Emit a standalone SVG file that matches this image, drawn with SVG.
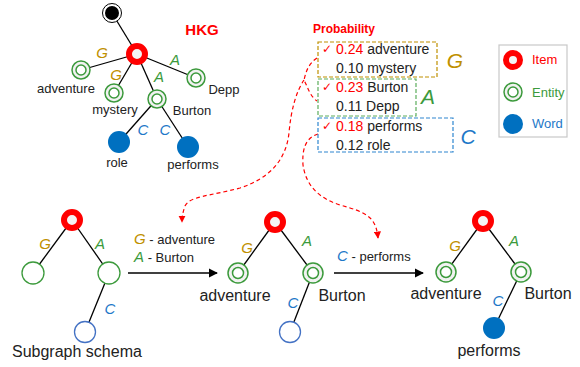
<svg xmlns="http://www.w3.org/2000/svg" width="580" height="367" viewBox="0 0 580 367">
<style>
text{font-family:"Liberation Sans",Arial,sans-serif;fill:#222}
.lbl{font-size:13px}
.big{font-size:16px}
.g{fill:#BF9000;font-style:italic}
.a{fill:#3C9A3C;font-style:italic}
.c{fill:#1E78C8;font-style:italic}
.el{font-size:15px}
.edge{stroke:#000;stroke-width:1.3;fill:none}
.item{fill:#F4F4F4;stroke:#FF0000;stroke-width:6}
.ent-o{fill:#F2F2F2;stroke:#3C9A3C;stroke-width:1.5}
.ent-i{fill:#fff;stroke:#3C9A3C;stroke-width:1.5}
.word{fill:#0070C0}
.sch-g{fill:#fff;stroke:#3C9A3C;stroke-width:1.3}
.sch-b{fill:#fff;stroke:#4472C4;stroke-width:1.3}
.red{fill:#FF0000}
.pt{font-size:14px}
.dash{fill:none;stroke:#FF0000;stroke-width:1.2;stroke-dasharray:4 3}
</style>
<defs>
<marker id="ah" viewBox="0 0 10 10" refX="9" refY="5" markerWidth="7" markerHeight="7" orient="auto-start-reverse"><path d="M0,0L10,5L0,10z" fill="#000"/></marker>
<marker id="rh" viewBox="0 0 10 10" refX="9" refY="5" markerWidth="6" markerHeight="6" orient="auto-start-reverse"><path d="M0,0L10,5L0,10z" fill="#FF0000"/></marker>
</defs>

<g id="connectors">
<line class="edge" x1="112" y1="13" x2="137" y2="54"/>
<line class="edge" x1="137" y1="54" x2="81" y2="70"/>
<line class="edge" x1="137" y1="54" x2="114" y2="93"/>
<line class="edge" x1="137" y1="54" x2="157" y2="99"/>
<line class="edge" x1="137" y1="54" x2="196" y2="78"/>
<line class="edge" x1="157" y1="99" x2="119" y2="142"/>
<line class="edge" x1="157" y1="99" x2="188" y2="147"/>
<line class="edge" x1="72" y1="220" x2="33" y2="273"/>
<line class="edge" x1="72" y1="220" x2="109" y2="273"/>
<line class="edge" x1="109" y1="273" x2="85" y2="332"/>
<line class="edge" x1="275" y1="222" x2="238" y2="273"/>
<line class="edge" x1="275" y1="222" x2="313" y2="273"/>
<line class="edge" x1="313" y1="273" x2="290" y2="332"/>
<line class="edge" x1="483" y1="221" x2="446" y2="272"/>
<line class="edge" x1="483" y1="221" x2="521" y2="272"/>
<line class="edge" x1="521" y1="272" x2="494" y2="328"/>
<line class="edge" x1="128" y1="273" x2="217" y2="273" marker-end="url(#ah)"/>
<line class="edge" x1="334" y1="273" x2="423" y2="273" marker-end="url(#ah)"/>
<path class="dash" d="M317,58 C308,64 306,72 304,80 C308,88 310,96 317,101"/>
<path class="dash" d="M304,80 C296,92 291,110 289,133 C286,160 270,178 240,188 C210,196 190,196 185,206 C183,212 182,216 182,222" marker-end="url(#rh)"/>
<path class="dash" d="M318,134 C305,138 302,150 303,165 C306,185 318,198 340,205 C365,212 376,216 378,238" marker-end="url(#rh)"/>
</g>

<g id="hkg-label"><text x="202" y="35" text-anchor="middle" style="font-size:15px;font-weight:bold;fill:#FF0000">HKG</text></g>

<g id="root"><circle cx="112" cy="13" r="9.5" fill="#fff" stroke="#000" stroke-width="1"/><circle cx="112" cy="13" r="7" fill="#000"/></g>
<g id="hkg-item"><circle class="item" cx="137" cy="54" r="8"/></g>
<g id="n-adventure"><circle class="ent-o" cx="81" cy="70" r="9"/><circle class="ent-i" cx="81" cy="70" r="5"/><text class="lbl" x="66" y="93" text-anchor="middle">adventure</text></g>
<g id="n-mystery"><circle class="ent-o" cx="114" cy="93" r="9"/><circle class="ent-i" cx="114" cy="93" r="5"/><text class="lbl" x="115" y="114" text-anchor="middle">mystery</text></g>
<g id="n-burton"><circle class="ent-o" cx="157" cy="99" r="9"/><circle class="ent-i" cx="157" cy="99" r="5"/><text class="lbl" x="192" y="115" text-anchor="middle">Burton</text></g>
<g id="n-depp"><circle class="ent-o" cx="196" cy="78" r="9"/><circle class="ent-i" cx="196" cy="78" r="5"/><text class="lbl" x="224" y="94" text-anchor="middle">Depp</text></g>
<g id="n-role"><circle class="word" cx="119" cy="142" r="11"/><text class="lbl" x="117" y="167" text-anchor="middle">role</text></g>
<g id="n-performs"><circle class="word" cx="188" cy="147" r="11"/><text class="lbl" x="193" y="169" text-anchor="middle">performs</text></g>
<g id="top-edge-labels">
<text class="g el" x="102" y="58" text-anchor="middle">G</text>
<text class="g el" x="116" y="80" text-anchor="middle">G</text>
<text class="a el" x="175" y="65" text-anchor="middle">A</text>
<text class="a el" x="159" y="82" text-anchor="middle">A</text>
<text class="c el" x="143" y="135" text-anchor="middle">C</text>
<text class="c el" x="165" y="135" text-anchor="middle">C</text>
</g>

<g id="probability">
<text x="313" y="33" style="font-size:12px;font-weight:bold;fill:#FF0000">Probability</text>
<rect x="318" y="42" width="119" height="35" fill="none" stroke="#BF9000" stroke-width="1.2" stroke-dasharray="4 2"/>
<rect x="318" y="79" width="98" height="37" fill="none" stroke="#5CAD5C" stroke-width="1.2" stroke-dasharray="4 2"/>
<rect x="318" y="118" width="135" height="34" fill="none" stroke="#2E86D0" stroke-width="1.2" stroke-dasharray="4 2"/>
<text x="322" y="53" style="font-size:12px;fill:#FF0000;font-family:'DejaVu Sans',sans-serif">✓</text>
<text class="pt" x="336" y="54"><tspan fill="#FF0000">0.24</tspan> adventure</text>
<text class="pt" x="336" y="73">0.10 mystery</text>
<text x="322" y="91" style="font-size:12px;fill:#FF0000;font-family:'DejaVu Sans',sans-serif">✓</text>
<text class="pt" x="336" y="92"><tspan fill="#FF0000">0.23</tspan> Burton</text>
<text class="pt" x="336" y="111">0.11 Depp</text>
<text x="322" y="130" style="font-size:12px;fill:#FF0000;font-family:'DejaVu Sans',sans-serif">✓</text>
<text class="pt" x="336" y="131"><tspan fill="#FF0000">0.18</tspan> performs</text>
<text class="pt" x="336" y="150">0.12 role</text>
<text class="g" x="455" y="68" text-anchor="middle" style="font-size:21px">G</text>
<text class="a" x="428" y="104" text-anchor="middle" style="font-size:21px">A</text>
<text class="c" x="468" y="144" text-anchor="middle" style="font-size:21px">C</text>
</g>

<g id="legend">
<rect x="499" y="45" width="68" height="92" fill="#fff" stroke="#C8C8C8" stroke-width="1.2"/>
<circle class="item" cx="513" cy="60" r="7"/>
<text x="532" y="64" style="font-size:13px;fill:#FF0000">Item</text>
<circle class="ent-o" cx="513" cy="92" r="9" fill="#fff"/><circle class="ent-i" cx="513" cy="92" r="5"/>
<text x="532" y="97" style="font-size:13px;fill:#3C9A3C">Entity</text>
<circle class="word" cx="513" cy="124" r="10"/>
<text x="532" y="128" style="font-size:13px;fill:#1E78C8">Word</text>
</g>

<g id="schema">
<circle class="item" cx="72" cy="220" r="8"/>
<circle class="sch-g" cx="33" cy="273" r="11"/>
<circle class="sch-g" cx="109" cy="273" r="11"/>
<circle class="sch-b" cx="85" cy="332" r="10.5"/>
<text class="g el" x="45" y="249" text-anchor="middle">G</text>
<text class="a el" x="100" y="249" text-anchor="middle">A</text>
<text class="c el" x="110" y="314" text-anchor="middle">C</text>
<text class="big" x="12" y="357">Subgraph schema</text>
</g>

<g id="step1-label">
<text x="134" y="244" class="lbl"><tspan class="g" style="font-size:15px">G</tspan> - adventure</text>
<text x="134" y="262" class="lbl"><tspan class="a" style="font-size:15px">A</tspan> - Burton</text>
</g>

<g id="step1">
<circle class="item" cx="275" cy="222" r="8"/>
<circle class="ent-o" cx="238" cy="273" r="10" fill="#fff"/><circle class="ent-i" cx="238" cy="273" r="5.5"/>
<circle class="ent-o" cx="313" cy="273" r="10" fill="#fff"/><circle class="ent-i" cx="313" cy="273" r="5.5"/>
<circle class="sch-b" cx="290" cy="332" r="10.5"/>
<text class="g el" x="247" y="253" text-anchor="middle">G</text>
<text class="a el" x="307" y="246" text-anchor="middle">A</text>
<text class="c el" x="293" y="308" text-anchor="middle">C</text>
<text class="big" x="235" y="301" text-anchor="middle">adventure</text>
<text class="big" x="342" y="301" text-anchor="middle">Burton</text>
</g>

<g id="step2-label">
<text x="337" y="261" class="lbl"><tspan class="c" style="font-size:15px">C</tspan> - performs</text>
</g>

<g id="step2">
<circle class="item" cx="483" cy="221" r="8"/>
<circle class="ent-o" cx="446" cy="272" r="10" fill="#fff"/><circle class="ent-i" cx="446" cy="272" r="5.5"/>
<circle class="ent-o" cx="521" cy="272" r="10" fill="#fff"/><circle class="ent-i" cx="521" cy="272" r="5.5"/>
<circle class="word" cx="494" cy="328" r="11"/>
<text class="g el" x="455" y="251" text-anchor="middle">G</text>
<text class="a el" x="514" y="246" text-anchor="middle">A</text>
<text class="c el" x="498" y="306" text-anchor="middle">C</text>
<text class="big" x="446" y="299" text-anchor="middle">adventure</text>
<text class="big" x="548" y="299" text-anchor="middle">Burton</text>
<text class="big" x="489" y="356" text-anchor="middle">performs</text>
</g>
</svg>
